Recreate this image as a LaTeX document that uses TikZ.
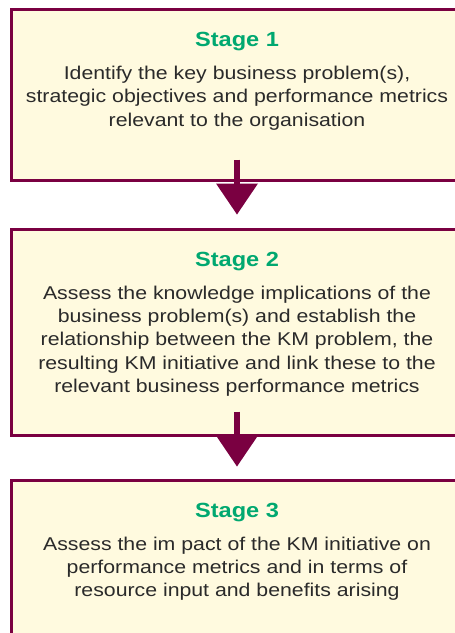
\documentclass[tikz,border=0pt]{standalone}
\usepackage{fontspec}
\setmainfont{Liberation Sans}[FakeStretch=1.15]
\usetikzlibrary{arrows.meta}
\definecolor{boxfill}{HTML}{FFFADF}
\definecolor{boxline}{HTML}{7A0041}
\definecolor{stagegreen}{HTML}{00A870}
\definecolor{bodytext}{HTML}{2A2A2A}
\tikzstyle{stagebox} = [rectangle, minimum width=452pt, draw=boxline, fill=boxfill, line width=3pt, inner sep=0pt]
\tikzstyle{stagehead} = [anchor=base, inner sep=0pt, text=stagegreen, font=\fontsize{20.5}{24}\selectfont\bfseries]
\tikzstyle{stagetext} = [anchor=north, inner sep=0pt, align=center, text=bodytext, font=\fontsize{18.5}{23.3}\selectfont]
\tikzstyle{arrow} = [boxline, line width=6pt, -{Triangle[width=42pt, length=31pt, line width=0pt]}]

\begin{document}
\begin{tikzpicture}[node distance=237pt]
\useasboundingbox (0,0) rectangle (455pt,-633pt);
\clip (0,0) rectangle (455pt,-633pt);

\node (b1) [stagebox, minimum height=171pt] at (237pt,-95pt) {};
\node (b2) [stagebox, minimum height=206pt, below of=b1] {};
\node (b3) [stagebox, minimum height=170pt, node distance=233pt, below of=b2] {};

\node (h1) [stagehead] at ([yshift=-38.5pt]b1.north) {Stage 1};
\node (t1) [stagetext] at ([yshift=-19.5pt]h1.base) {Identify the key business problem(s),\\strategic objectives and performance metrics\\relevant to the organisation};

\node (h2) [stagehead] at ([yshift=-38.5pt]b2.north) {Stage 2};
\node (t2) [stagetext] at ([yshift=-19.5pt]h2.base) {Assess the knowledge implications of the\\business problem(s) and establish the\\relationship between the KM problem, the\\resulting KM initiative and link these to the\\relevant business performance metrics};

\node (h3) [stagehead] at ([yshift=-38.5pt]b3.north) {Stage 3};
\node (t3) [stagetext] at ([yshift=-19.5pt]h3.base) {Assess the im pact of the KM initiative on\\performance metrics and in terms of\\resource input and benefits arising};

\draw [arrow] ([yshift=22.5pt]b1.south) -- ([yshift=13pt]b2.north);
\draw [arrow] ([yshift=25pt]b2.south) -- ([yshift=12pt]b3.north);

\end{tikzpicture}
\end{document}
